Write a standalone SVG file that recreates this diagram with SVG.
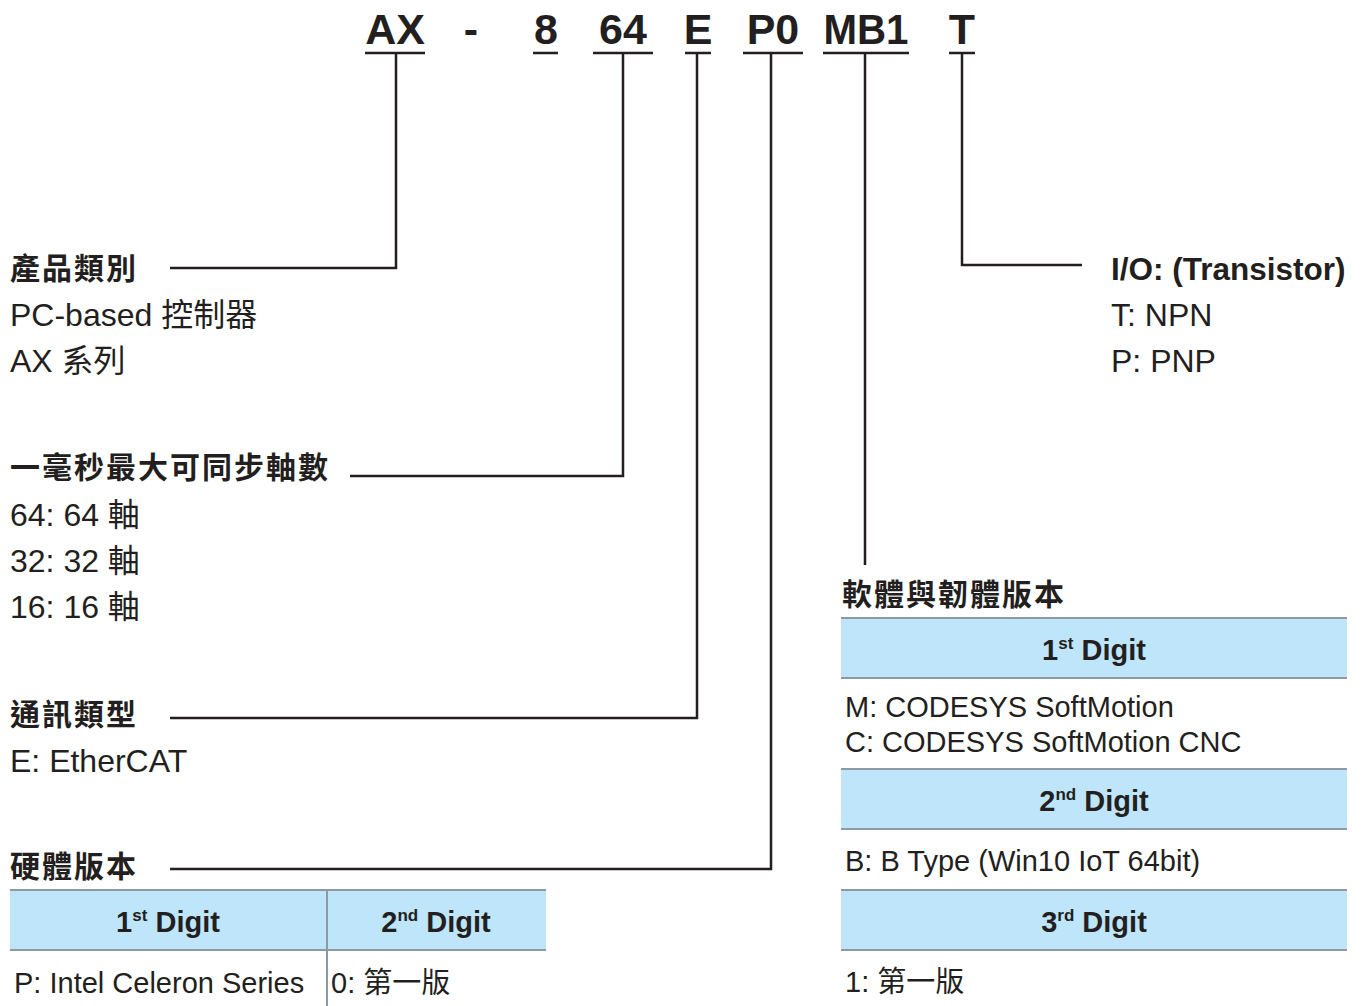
<svg xmlns="http://www.w3.org/2000/svg" width="1363" height="1006" viewBox="0 0 1363 1006">
<style>
text{fill:#231f20;font-family:"Liberation Sans","Noto Sans CJK TC",sans-serif}
.code{font-size:43px;font-weight:bold;text-anchor:middle}
.h{font-size:30px;font-weight:bold;letter-spacing:2px}
.t{font-size:29px}
.L{font-size:32px}
.th{font-size:29px;font-weight:bold;text-anchor:middle}
.sup{font-size:17px}
.ln{stroke:#231f20;stroke-width:2.5;fill:none}
.grid{stroke:#8c9aa6;stroke-width:2;fill:none}
.hdr{fill:#bee5f9}
</style>
<g id="code">
<text class="code" x="395" y="44">AX</text>
<text class="code" x="471" y="44">-</text>
<text class="code" x="546" y="44">8</text>
<text class="code" x="623" y="44">64</text>
<text class="code" x="698" y="44">E</text>
<text class="code" x="773" y="44">P0</text>
<text class="code" x="866" y="44" textLength="85" lengthAdjust="spacingAndGlyphs">MB1</text>
<text class="code" x="962" y="44">T</text>
</g>
<g id="connectors">
<path class="ln" d="M365 53H425M533 53H558M593 53H653M685 53H711M743 53H803M823 53H909M949 53H975"/>
<path class="ln" d="M396 53V268H170"/>
<path class="ln" d="M623 53V476H350"/>
<path class="ln" d="M697 53V718H170"/>
<path class="ln" d="M771 53V869H170"/>
<path class="ln" d="M865 53V565"/>
<path class="ln" d="M962 53V265H1082"/>
</g>
<g id="product">
<text class="h" x="10" y="279">產品類別</text>
<text class="L" x="10" y="326">PC-based 控制器</text>
<text class="L" x="10" y="372">AX 系列</text>
</g>
<g id="axes">
<text class="h" x="10" y="478">一毫秒最大可同步軸數</text>
<text class="L" x="10" y="526">64: 64 軸</text>
<text class="L" x="10" y="572">32: 32 軸</text>
<text class="L" x="10" y="618">16: 16 軸</text>
</g>
<g id="comm">
<text class="h" x="10" y="725">通訊類型</text>
<text class="L" x="10" y="772">E: EtherCAT</text>
</g>
<g id="hw">
<text class="h" x="10" y="877">硬體版本</text>
<rect class="hdr" x="10" y="890" width="536" height="60"/>
<path class="grid" d="M10 890H546M10 950H546M327 890V1006"/>
<text class="th" x="168" y="932">1<tspan class="sup" dy="-11">st</tspan><tspan dy="11"> Digit</tspan></text>
<text class="th" x="436" y="932">2<tspan class="sup" dy="-11">nd</tspan><tspan dy="11"> Digit</tspan></text>
<text class="t" x="14" y="993">P: Intel Celeron Series</text>
<text class="t" x="331" y="993">0: 第一版</text>
</g>
<g id="io">
<text x="1111" y="280" style="font-size:31.5px;font-weight:bold">I/O: (Transistor)</text>
<text class="L" x="1111" y="326">T: NPN</text>
<text class="L" x="1111" y="372">P: PNP</text>
</g>
<g id="sw">
<text class="h" x="842" y="605">軟體與韌體版本</text>
<rect class="hdr" x="841" y="618" width="506" height="60"/>
<rect class="hdr" x="841" y="769" width="506" height="60"/>
<rect class="hdr" x="841" y="890" width="506" height="60"/>
<path class="grid" d="M841 618H1347M841 678H1347M841 769H1347M841 829H1347M841 890H1347M841 950H1347"/>
<text class="th" x="1094" y="660">1<tspan class="sup" dy="-11">st</tspan><tspan dy="11"> Digit</tspan></text>
<text class="t" x="845" y="717">M: CODESYS SoftMotion</text>
<text class="t" x="845" y="752">C: CODESYS SoftMotion CNC</text>
<text class="th" x="1094" y="811">2<tspan class="sup" dy="-11">nd</tspan><tspan dy="11"> Digit</tspan></text>
<text class="t" x="845" y="871">B: B Type (Win10 IoT 64bit)</text>
<text class="th" x="1094" y="932">3<tspan class="sup" dy="-11">rd</tspan><tspan dy="11"> Digit</tspan></text>
<text class="t" x="845" y="992">1: 第一版</text>
</g>
</svg>
